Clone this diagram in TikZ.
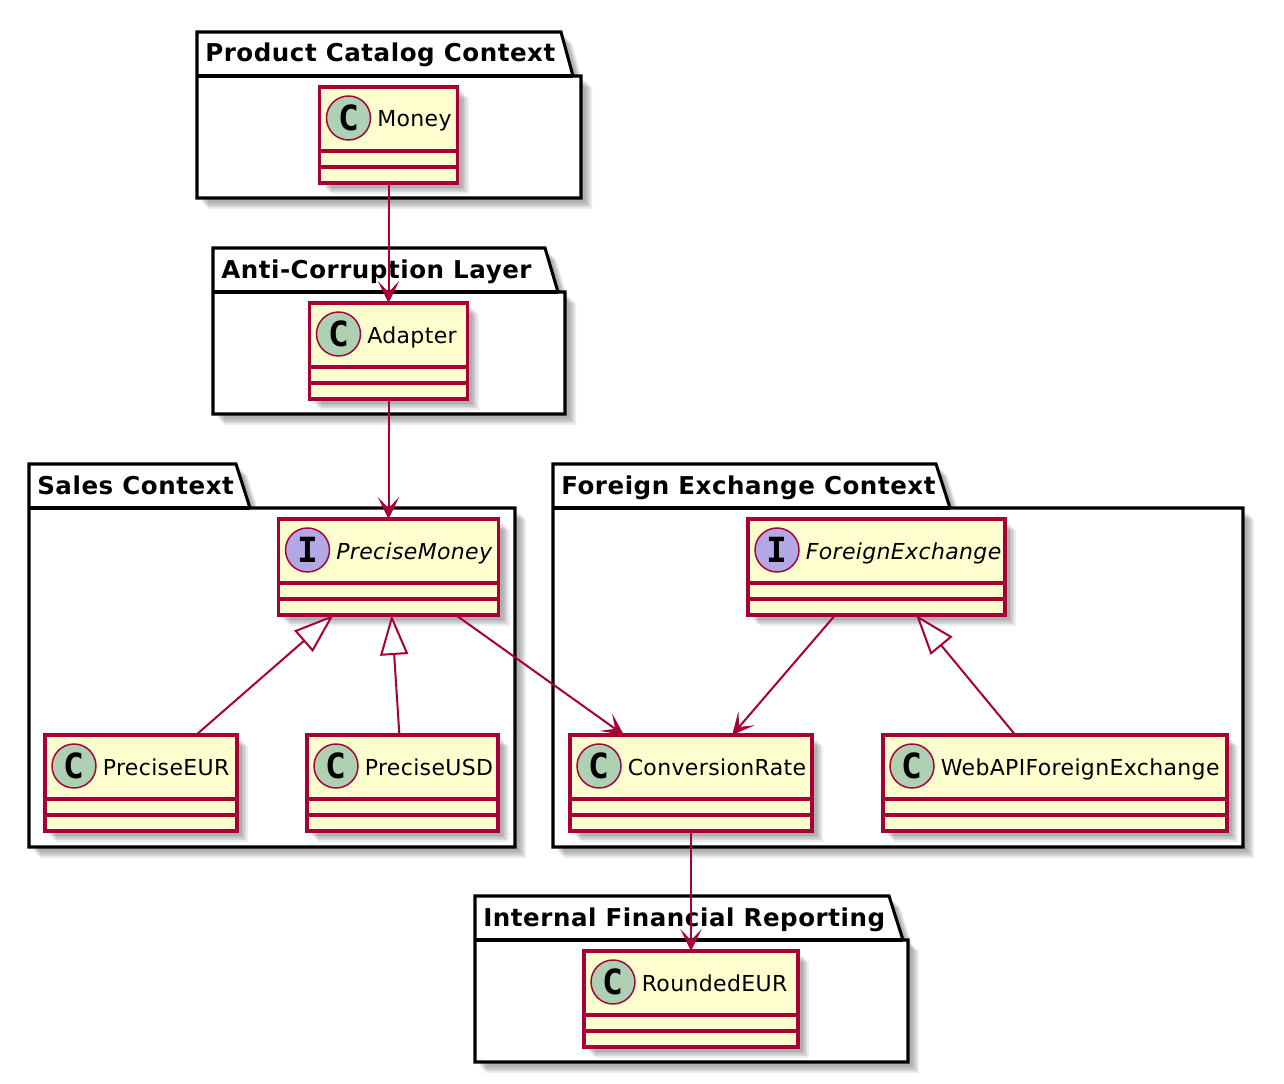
\documentclass[tikz,border=0pt]{standalone}
\usepackage{fontspec}
\setmainfont{DejaVu Sans}
\newfontfamily\markfont{DejaVu Sans Mono}
\usetikzlibrary{shadows,arrows.meta,positioning,calc}
\definecolor{umlRed}{HTML}{A80036}
\definecolor{umlFill}{HTML}{FEFECE}
\definecolor{classGreen}{HTML}{ADD1B2}
\definecolor{ifaceViolet}{HTML}{B4A7E5}
\tikzset{
  softshadow/.style={
    general shadow={shadow xshift=3.5pt,shadow yshift=-3.5pt,fill=black,opacity=.07},
    general shadow={shadow xshift=4.7pt,shadow yshift=-4.7pt,fill=black,opacity=.07},
    general shadow={shadow xshift=5.9pt,shadow yshift=-5.9pt,fill=black,opacity=.07},
    general shadow={shadow xshift=7.1pt,shadow yshift=-7.1pt,fill=black,opacity=.07},
    general shadow={shadow xshift=8.3pt,shadow yshift=-8.3pt,fill=black,opacity=.07}},
  pkgbox/.style={draw=black,fill=white,line width=2.3pt,line join=miter,softshadow},
  pkgtitle/.style={font=\fontsize{18.4}{20}\selectfont\bfseries\addfontfeature{LetterSpace=2.2},anchor=base west,inner sep=0pt},
  classbox/.style={draw=umlRed,fill=umlFill,line width=2.35pt,minimum height=72pt,inner sep=0pt,outer sep=0pt,softshadow},
  classsep/.style={draw=umlRed,line width=2.35pt},
  classmark/.style={circle,draw=umlRed,line width=1.1pt,minimum size=33pt,inner sep=0pt,font=\markfont\fontsize{26}{26}\selectfont\bfseries},
  classname/.style={font=\fontsize{16.5}{18}\selectfont\addfontfeature{LetterSpace=1.6},anchor=base west,inner sep=0pt},
  assoc/.style={draw=umlRed,line width=1.5pt,-{Stealth[length=16.5pt,width=16pt,inset=8.5pt]}},
  extends/.style={draw=umlRed,line width=1.5pt,-{Triangle[length=30pt,width=21pt,fill=white]}}
}
\begin{document}
\begin{tikzpicture}[x=0.75pt,y=-0.75pt]
  \useasboundingbox (0,0) rectangle (1284,1084);

  % Packages
  \foreach \pname/\xl/\xa/\xb/\xr/\yt/\ym/\yb/\ptitle in {
    catalog/197/561/573/581/32/76/198/Product Catalog Context,
    acl/213/545/558/565/248/292/414/Anti-Corruption Layer,
    sales/29/236/250/515/464/508/847/Sales Context,
    forex/553/936/950/1243/464/508/847/Foreign Exchange Context,
    reporting/475/889/903/908/896/940/1062/Internal Financial Reporting} {
    \draw[pkgbox] (\xl,\yt) -- (\xa,\yt) -- (\xb,\ym) -- (\xr,\ym) -- (\xr,\yb) -- (\xl,\yb) -- cycle;
    \draw[black,line width=2.3pt] (\xl,\ym) -- (\xb,\ym);
    \node[pkgtitle] (\pname title) at (\xl+8,\yt+30) {\ptitle};
  }

  % Classes
  \foreach \cname/\cx/\cy/\cw/\cletter/\ctint/\cshape/\ctext in {
    money/388.5/135/138/C/classGreen/\upshape/Money,
    adapter/388.5/351/158/C/classGreen/\upshape/Adapter,
    precisemoney/388.5/567/220/I/ifaceViolet/\itshape/PreciseMoney,
    foreignexchange/876.5/567/257/I/ifaceViolet/\itshape/ForeignExchange,
    preciseeur/141/783/192/C/classGreen/\upshape/PreciseEUR,
    preciseusd/402.5/783/191/C/classGreen/\upshape/PreciseUSD,
    conversionrate/691/783/242/C/classGreen/\upshape/ConversionRate,
    webapi/1055/783/344/C/classGreen/\upshape/WebAPIForeignExchange,
    roundedeur/691/999/214/C/classGreen/\upshape/RoundedEUR} {
    \node[classbox,minimum width=\cw*0.75pt] (\cname) at (\cx,\cy) {};
    \draw[classsep] (\cname.north west) ++(0,64) -- ++(\cw,0);
    \draw[classsep] (\cname.north west) ++(0,80) -- ++(\cw,0);
    \node[classmark,fill=\ctint] (\cname mark) at ([shift={(21.75pt,-23.25pt)}]\cname.north west) {\cletter};
    \node[classname] (\cname label) at ([shift={(21.4pt,-6.75pt)}]\cname mark.center) {\cshape\ctext};
  }

  % Associations
  \draw[assoc] (money) -- (adapter);
  \draw[assoc] (adapter) -- (precisemoney);
  \draw[assoc] (precisemoney) -- (conversionrate);
  \draw[assoc] (foreignexchange) -- (conversionrate);
  \draw[assoc] (conversionrate) -- (roundedeur);
  % Generalizations
  \draw[extends] (preciseeur) -- (precisemoney);
  \draw[extends] (preciseusd) -- (precisemoney);
  \draw[extends] (webapi) -- (foreignexchange);
\end{tikzpicture}
\end{document}
